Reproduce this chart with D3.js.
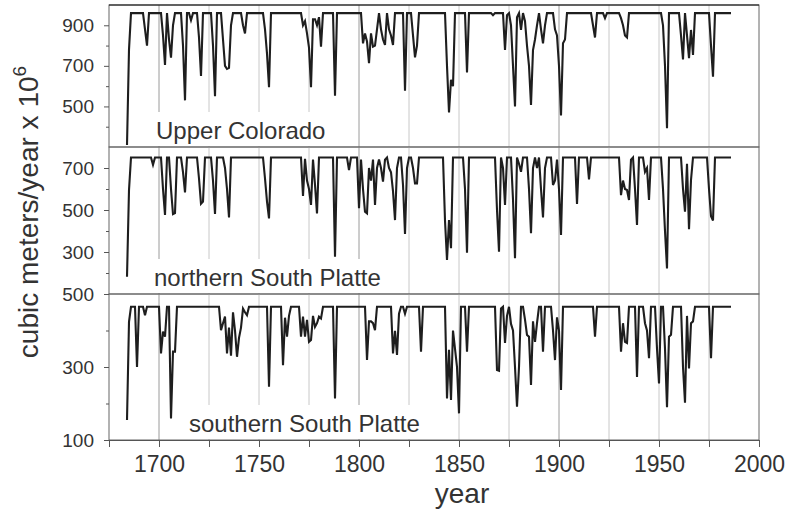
<!DOCTYPE html>
<html>
<head>
<meta charset="utf-8">
<script src="https://cdn.jsdelivr.net/npm/d3@7.9.0/dist/d3.min.js"></script>
<style>
  body { margin: 0; background: #fff; }
  text { font-family: "Liberation Sans", Arial, sans-serif; fill: #333; }
</style>
</head>
<body>
<svg id="chart" width="787" height="510"></svg>
<script>
// reconstructed streamflow, [year, value] at each drawn vertex
const upperColorado = [
  [1684, 310], [1685, 780], [1686, 960], [1692, 960], [1693, 880], [1694, 800], [1695, 960],
  [1701, 960], [1702, 850], [1703, 705], [1704, 960], [1705, 830], [1706, 740], [1707, 900], [1708, 960],
  [1711, 960], [1712, 800], [1713, 530], [1714, 960], [1715, 960], [1716, 925], [1717, 960],
  [1719, 960], [1720, 840], [1721, 650], [1722, 960], [1726, 960], [1727, 800], [1728, 550], [1729, 960],
  [1731, 960], [1732, 830], [1733, 700], [1734, 685], [1735, 690], [1736, 900], [1737, 960],
  [1741, 960], [1742, 900], [1743, 860], [1744, 960], [1752, 960], [1753, 880], [1754, 760], [1755, 595], [1756, 960],
  [1771, 960], [1772, 900], [1773, 920], [1774, 860], [1775, 790], [1776, 595], [1777, 930], [1778, 930],
  [1779, 900], [1780, 940], [1781, 795], [1782, 960], [1787, 960], [1788, 553], [1789, 960],
  [1801, 960], [1802, 811], [1803, 860], [1804, 820], [1805, 713], [1806, 860], [1807, 795], [1808, 800],
  [1809, 880], [1810, 960], [1811, 880], [1812, 830], [1813, 803], [1814, 960], [1815, 880], [1816, 850],
  [1817, 803], [1818, 960], [1822, 960], [1823, 578], [1824, 960], [1826, 960], [1827, 850], [1828, 742],
  [1829, 800], [1830, 960], [1843, 960], [1844, 700], [1845, 470], [1846, 631], [1847, 600], [1848, 960],
  [1853, 960], [1854, 667], [1855, 960], [1866, 960], [1867, 950], [1868, 960],
  [1872, 960], [1873, 778], [1874, 950], [1875, 960], [1876, 900], [1877, 700], [1878, 500], [1879, 940],
  [1880, 960], [1881, 877], [1882, 960], [1883, 920], [1884, 800], [1885, 700], [1886, 507], [1887, 778],
  [1888, 830], [1889, 900], [1890, 960], [1891, 880], [1892, 811], [1893, 900], [1894, 960],
  [1897, 960], [1898, 880], [1899, 850], [1900, 700], [1901, 455], [1902, 811], [1903, 830], [1904, 960],
  [1916, 960], [1917, 900], [1918, 840], [1919, 960], [1922, 960], [1923, 935], [1924, 960],
  [1930, 960], [1931, 935], [1932, 900], [1933, 850], [1934, 840], [1935, 960],
  [1951, 960], [1952, 900], [1953, 700], [1954, 393], [1955, 960],
  [1960, 960], [1961, 850], [1962, 732], [1963, 960], [1964, 850], [1965, 738], [1966, 877], [1967, 754], [1968, 960],
  [1975, 960], [1976, 800], [1977, 647], [1978, 960], [1986, 960]
];

const northernSouthPlatte = [
  [1684, 182], [1685, 595], [1686, 750], [1696, 750], [1697, 715], [1698, 750],
  [1701, 750], [1702, 600], [1703, 476], [1704, 750], [1705, 750], [1706, 600], [1707, 480], [1708, 485], [1709, 750],
  [1711, 750], [1712, 680], [1713, 584], [1714, 750], [1719, 750], [1720, 650], [1721, 530], [1722, 540], [1723, 750],
  [1726, 750], [1727, 640], [1728, 481], [1729, 750], [1732, 750], [1733, 700], [1734, 600], [1735, 465], [1736, 750],
  [1752, 750], [1753, 650], [1754, 540], [1755, 460], [1756, 750],
  [1771, 750], [1772, 567], [1773, 744], [1774, 640], [1775, 600], [1776, 524], [1777, 740], [1778, 620], [1779, 484], [1780, 750],
  [1787, 750], [1788, 278], [1789, 750], [1794, 750], [1795, 690], [1796, 750],
  [1799, 750], [1800, 508], [1801, 740], [1802, 600], [1803, 492], [1804, 484], [1805, 700], [1806, 640],
  [1807, 740], [1808, 524], [1809, 700], [1810, 740], [1811, 700], [1812, 635], [1813, 740], [1814, 750],
  [1815, 700], [1816, 680], [1817, 590], [1818, 452], [1819, 700], [1820, 750], [1821, 750], [1822, 620],
  [1823, 386], [1824, 700], [1825, 750], [1826, 750], [1827, 700], [1828, 627], [1829, 627], [1830, 750],
  [1842, 750], [1843, 450], [1844, 262], [1845, 452], [1846, 318], [1847, 750],
  [1852, 750], [1853, 600], [1854, 297], [1855, 750],
  [1868, 750], [1869, 500], [1870, 301], [1871, 750], [1872, 700], [1873, 524], [1874, 750],
  [1876, 750], [1877, 550], [1878, 270], [1879, 750], [1880, 720], [1881, 682], [1882, 750],
  [1884, 750], [1885, 600], [1886, 390], [1887, 700], [1888, 750], [1889, 700], [1890, 750],
  [1891, 600], [1892, 465], [1893, 700], [1894, 750], [1896, 750], [1897, 619], [1898, 640], [1899, 740],
  [1900, 600], [1901, 381], [1902, 750], [1908, 750], [1909, 529], [1910, 750], [1914, 750], [1915, 646], [1916, 750],
  [1930, 750], [1931, 571], [1932, 640], [1933, 600], [1934, 595], [1935, 548], [1936, 740], [1937, 750],
  [1938, 600], [1939, 429], [1940, 750], [1942, 750], [1943, 682], [1944, 700], [1945, 548], [1946, 750],
  [1951, 750], [1952, 600], [1953, 400], [1954, 222], [1955, 750],
  [1961, 750], [1962, 600], [1963, 492], [1964, 720], [1965, 408], [1966, 643], [1967, 750],
  [1974, 750], [1975, 600], [1976, 470], [1977, 450], [1978, 750], [1986, 750]
];

const southernSouthPlatte = [
  [1684, 155], [1685, 424], [1686, 465], [1688, 465], [1689, 300], [1690, 465], [1692, 465], [1693, 442], [1694, 465],
  [1700, 465], [1701, 337], [1702, 397], [1703, 383], [1704, 465], [1705, 465], [1706, 159], [1707, 342], [1708, 342], [1709, 465],
  [1730, 465], [1731, 401], [1732, 420], [1733, 438], [1734, 337], [1735, 408], [1736, 331], [1737, 450],
  [1738, 400], [1739, 328], [1740, 380], [1741, 408], [1742, 460], [1743, 450], [1744, 442], [1745, 465],
  [1754, 465], [1755, 246], [1756, 465], [1761, 465], [1762, 305], [1763, 435], [1764, 383], [1765, 440], [1766, 465],
  [1770, 465], [1771, 383], [1772, 438], [1773, 383], [1774, 429], [1775, 369], [1776, 374], [1777, 440],
  [1778, 410], [1779, 420], [1780, 438], [1781, 433], [1782, 465], [1787, 465], [1788, 214], [1789, 465],
  [1803, 465], [1804, 319], [1805, 425], [1806, 425], [1807, 420], [1808, 401], [1809, 465],
  [1816, 465], [1817, 337], [1818, 399], [1819, 333], [1820, 446], [1821, 465], [1822, 465], [1823, 446], [1824, 465],
  [1830, 465], [1831, 342], [1832, 465],
  [1843, 465], [1844, 214], [1845, 347], [1846, 210], [1847, 400], [1848, 350], [1849, 300], [1850, 173], [1851, 465],
  [1853, 465], [1854, 342], [1855, 465],
  [1868, 465], [1869, 292], [1870, 290], [1871, 460], [1872, 465], [1873, 366], [1874, 440], [1875, 465],
  [1876, 418], [1877, 400], [1878, 300], [1879, 191], [1880, 300], [1881, 465], [1882, 465], [1883, 430],
  [1884, 388], [1885, 383], [1886, 251], [1887, 425], [1888, 369], [1889, 420], [1890, 465], [1891, 465],
  [1892, 342], [1893, 465], [1896, 465], [1897, 400], [1898, 319], [1899, 436], [1900, 400], [1901, 237], [1902, 465],
  [1917, 465], [1918, 383], [1919, 465], [1930, 465], [1931, 342], [1932, 420], [1933, 369], [1934, 366], [1935, 465],
  [1938, 465], [1939, 273], [1940, 465], [1942, 465], [1943, 420], [1944, 400], [1945, 324], [1946, 465],
  [1948, 465], [1949, 350], [1950, 255], [1951, 465], [1952, 465], [1953, 350], [1954, 190], [1955, 383], [1956, 388], [1957, 465],
  [1961, 465], [1962, 300], [1963, 202], [1964, 440], [1965, 296], [1966, 420], [1967, 425], [1968, 465],
  [1975, 465], [1976, 324], [1977, 465], [1986, 465]
];

const panelNames = ['Upper Colorado', 'northern South Platte', 'southern South Platte'];
const panelSeries = [upperColorado, northernSouthPlatte, southernSouthPlatte];
const panelDomains = [[300, 1000], [100, 800], [100, 500]];
const majorTicks = [[500, 700, 900], [300, 500, 700], [100, 300, 500]];
const minorTicks = [[400, 600, 800], [200, 400, 600], [200, 400]];
const yearTicks = d3.range(1675, 2001, 25);
const gridYears = d3.range(1700, 1976, 25);

const svg = d3.select('#chart');
const left = 109, right = 759;
const bands = [[5, 147], [147, 294], [294, 440]];
const labelX = [156, 154, 189];

const x = d3.scaleLinear().domain([1675, 2000]).range([left, right]);

panelSeries.forEach((series, i) => {
  const [top, bottom] = bands[i];
  const y = d3.scaleLinear().domain(panelDomains[i]).range([bottom, top]);
  const g = svg.append('g');

  // vertical grid
  g.selectAll('line.grid')
    .data(gridYears)
    .join('line')
    .attr('x1', (d) => x(d)).attr('x2', (d) => x(d))
    .attr('y1', top).attr('y2', bottom)
    .attr('stroke', (d) => (d % 100 === 0 ? '#9a9a9a' : '#c8c8c8'))
    .attr('stroke-width', 1);

  // label with white box behind it
  const label = g.append('text')
    .attr('x', labelX[i])
    .attr('y', bottom - 8)
    .attr('font-size', 24)
    .text(panelNames[i]);
  const bb = label.node().getBBox();
  g.insert('rect', 'text')
    .attr('x', bb.x - 6).attr('y', bb.y - 5)
    .attr('width', bb.width + 12).attr('height', bottom - bb.y + 4)
    .attr('fill', '#fff');

  g.append('path')
    .datum(series)
    .attr('fill', 'none')
    .attr('stroke', '#1e1e1e')
    .attr('stroke-width', 2.1)
    .attr('d', d3.line().x((d) => x(d[0])).y((d) => y(d[1])));

  // frame
  g.append('rect')
    .attr('x', left).attr('y', top)
    .attr('width', right - left).attr('height', bottom - top)
    .attr('fill', 'none')
    .attr('stroke', '#666');

  const yAxis = g.append('g')
    .attr('transform', `translate(${left},0)`)
    .call(d3.axisLeft(y).tickValues(majorTicks[i]).tickSize(5).tickPadding(10).tickFormat(d3.format('d')));
  yAxis.select('.domain').remove();
  yAxis.selectAll('line').attr('stroke', '#555');
  yAxis.selectAll('text').attr('font-size', 19).attr('fill', '#333');

  const yMinor = g.append('g')
    .attr('transform', `translate(${left},0)`)
    .call(d3.axisLeft(y).tickValues(minorTicks[i]).tickSize(3).tickFormat(''));
  yMinor.select('.domain').remove();
  yMinor.selectAll('line').attr('stroke', '#555');
});

svg.append('line')
  .attr('x1', left).attr('x2', right)
  .attr('y1', 5).attr('y2', 5)
  .attr('stroke', '#111');

const xAxis = svg.append('g')
  .attr('transform', `translate(0,${bands[2][1]})`)
  .call(d3.axisBottom(x).tickValues(yearTicks).tickSize(7)
    .tickFormat((d) => (d % 50 === 0 && d >= 1700 ? d : '')));
xAxis.select('.domain').attr('stroke', '#555');
xAxis.selectAll('line').attr('stroke', '#555');
xAxis.selectAll('text').attr('font-size', 23).attr('fill', '#333').attr('y', 32).attr('dy', 0);

svg.append('text')
  .attr('x', 462).attr('y', 503)
  .attr('text-anchor', 'middle')
  .attr('font-size', 28)
  .text('year');

const yTitle = svg.append('text')
  .attr('transform', 'translate(38,212) rotate(-90)')
  .attr('text-anchor', 'middle')
  .attr('font-size', 28);
yTitle.append('tspan').text('cubic meters/year x 10');
yTitle.append('tspan').attr('font-size', 19).attr('dy', -12).text('6');
</script>
</body>
</html>
